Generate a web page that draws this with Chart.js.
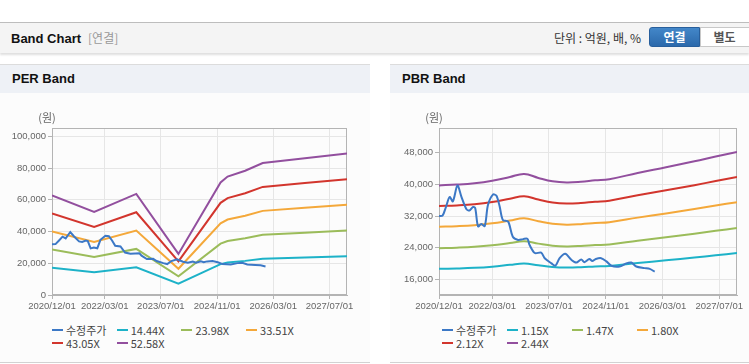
<!DOCTYPE html>
<html><head><meta charset="utf-8">
<script src="https://cdn.jsdelivr.net/npm/chart.js@4.4.1/dist/chart.umd.min.js"></script>
<style>
html,body{margin:0;padding:0;background:#fff;width:749px;height:364px;overflow:hidden;font-family:"Noto Sans CJK KR","Liberation Sans",sans-serif;}
#hdr{position:absolute;left:0;top:22px;width:749px;height:30px;background:#f4f4f4;border-top:1px solid #bdbdbd;box-shadow:0 2px 2px rgba(0,0,0,0.13);}
#hdr .t{position:absolute;left:11px;top:6px;font:bold 13px "Liberation Sans",sans-serif;color:#111;line-height:18px;}
#hdr .t span{font:12px "Noto Sans CJK KR",sans-serif;color:#999;margin-left:7px;}
#hdr .u{position:absolute;right:108px;top:6px;font:12px "Noto Sans CJK KR",sans-serif;color:#333;line-height:18px;}
#hdr .b1{position:absolute;left:649px;top:4px;width:51px;height:20px;background:linear-gradient(#4387c9,#2b69ab);border:1px solid #285f9c;border-radius:3px 0 0 3px;box-sizing:border-box;color:#fff;font:bold 12px "Noto Sans CJK KR",sans-serif;text-align:center;line-height:18px;}
#hdr .b2{position:absolute;left:700px;top:4px;width:56px;height:20px;background:#fff;border:1px solid #c8c8c8;box-sizing:border-box;color:#555;font:bold 12px "Noto Sans CJK KR",sans-serif;text-align:center;line-height:18px;padding-right:7px;}
.panel{position:absolute;top:64px;height:297px;background:#fcfcfc;border-top:1px solid #dcdcdc;border-bottom:1px solid #d2d2d2;}
.ptitle{height:28px;background:#eef1f6;font:bold 13px "Liberation Sans",sans-serif;color:#111;padding-left:12px;line-height:28px;}
canvas{position:absolute;top:93px;}
.legend{position:absolute;top:323px;display:flex;flex-wrap:wrap;}
.legend .it{display:flex;align-items:center;height:13px;font:11px "Noto Sans CJK KR",sans-serif;color:#444;white-space:nowrap;}
.legend .mk{display:inline-block;width:11px;height:2px;margin-right:3px;}
</style></head>
<body>
<div id="hdr"><div class="t">Band Chart<span>[연결]</span></div><div class="u">단위 : 억원, 배, %</div><div class="b1">연결</div><div class="b2">별도</div></div>
<div class="panel" style="left:0;width:370px;"><div class="ptitle">PER Band</div></div>
<div class="panel" style="left:390px;width:359px;"><div class="ptitle">PBR Band</div></div>
<canvas id="per" width="370" height="225" style="left:0;"></canvas>
<canvas id="pbr" width="359" height="225" style="left:390px;"></canvas>
<div class="legend" id="perLeg" style="left:52px;width:260px;"></div>
<div class="legend" id="pbrLeg" style="left:442px;width:262px;"></div>
<script>
// ---- data ----
const xTickLabels = ['2020/12/01','2022/03/01','2023/07/01','2024/11/01','2026/03/01','2027/07/01'];
const xStart = '2020/12/01';
const xEnd = '2027/12/01';

const priceDates = ['2020/12/01','2021/01/01','2021/02/01','2021/03/01','2021/03/28','2021/05/07','2021/06/10','2021/07/22','2021/08/19','2021/09/19','2021/10/07','2021/11/01','2021/11/28','2021/12/28','2022/01/25','2022/03/07','2022/04/07','2022/05/04','2022/06/01','2022/07/16','2022/08/25','2022/10/10','2022/11/22','2022/12/28','2023/01/16','2023/03/01','2023/04/25','2023/05/25','2023/07/22','2023/08/25','2023/10/01','2023/11/19','2024/01/10','2024/02/22','2024/04/04','2024/05/01','2024/06/13','2024/07/07','2024/08/07','2024/09/22','2024/11/07','2024/12/19','2025/02/28','2025/04/25','2025/06/07','2025/07/19','2025/09/28','2025/11/13','2025/12/25'];
const priceValues = [32000,32100,34400,36800,35700,39700,36900,33800,33400,34300,34000,29400,30000,29500,34800,37400,37100,34400,31000,30600,26800,26000,26200,26300,24800,22700,22800,21400,20100,19500,21400,22500,21000,20300,21100,20400,21200,20700,21200,21400,20600,19500,19300,20100,20300,19300,18900,18700,18000];

const perBandDates = ['2020/12/01','2021/12/01','2022/12/01','2023/12/01','2024/12/01','2025/02/01','2025/07/01','2025/12/01','2026/12/01','2027/12/01'];
const per1444 = [17256,14397,17501,7119,19494,20505,21516,22859,23682,24505];
const per2398 = [28656,23908,29064,11822,32373,34052,35730,37960,39327,40694];
const per3351 = [40044,33409,40614,16520,45239,47584,49930,53046,54956,56866];
const per4305 = [51445,42921,52177,21224,58118,61131,64145,68148,70602,73056];
const per5258 = [62833,52422,63727,25922,70983,74664,78344,83234,86231,89228];
const perLabels = ['수정주가','14.44X','23.98X','33.51X','43.05X','52.58X'];
const perYTicks = [0,20000,40000,60000,80000,100000];

const pbrBandDates = ['2020/12/01','2021/05/01','2021/10/01','2022/03/01','2022/08/01','2022/12/01','2023/04/01','2023/08/01','2023/12/01','2024/04/01','2024/08/01','2024/12/01','2025/08/01','2026/04/01','2026/12/01','2027/06/01','2027/12/01'];
const pbr115 = [18722,18814,18975,19274,19723,20079,19608,19205,19067,19148,19320,19458,20194,20873,21574,22138,22678];
const pbr147 = [23932,24049,24255,24637,25211,25666,25064,24549,24373,24476,24696,24872,25813,26681,27577,28298,28988];
const pbr180 = [29304,29448,29700,30168,30870,31428,30690,30060,29844,29970,30240,30456,31608,32670,33768,34650,35496];
const pbr212 = [34514,34683,34980,35531,36358,37015,36146,35404,35150,35298,35616,35870,37227,38478,39771,40810,41806];
const pbr244 = [39723,39918,40260,40894,41846,42602,41602,40748,40455,40626,40992,41285,42846,44286,45774,46970,48117];
const pbrLabels = ['수정주가','1.15X','1.47X','1.80X','2.12X','2.44X'];
const pbrYTicks = [16000,24000,32000,40000,48000];

const colors = ['#3c78c6','#1db2c8','#9bbc5a','#f4a83a','#d2352d','#924f9e'];

// ---- helpers ----
function toMonth(s){const [y,m,d]=s.split('/').map(Number);const [y0,m0]=xStart.split('/').map(Number);return (y-y0)*12+(m-m0)+(d-1)/30;}
function pts(dates,vals){return dates.map((d,i)=>({x:toMonth(d),y:vals[i]}));}

const frame = {
  id:'frame',
  beforeDatasetsDraw(c){
    const a=c.chartArea,ctx=c.ctx;ctx.save();ctx.strokeStyle='#b4b4b4';ctx.lineWidth=1;
    const l=Math.round(a.left)+0.5,t=Math.round(a.top)+0.5,r=Math.round(a.right)-0.5,b=Math.round(a.bottom)-0.5;
    ctx.strokeRect(l,t,r-l,b-t);ctx.restore();
  },
  afterDraw(c){
    const a=c.chartArea,ctx=c.ctx;ctx.save();ctx.fillStyle='#666';ctx.font='11px "Noto Sans CJK KR"';
    ctx.textAlign='center';ctx.textBaseline='middle';ctx.fillText('(원)',a.left-5,a.top-10);ctx.restore();
  }
};

function makeChart(id,seriesSets,labels,yMin,yMax,yTicks,yWidth,pad,tension,priceTension){
  const ds = seriesSets.map((s,i)=>({
    label:labels[i],data:s,borderColor:colors[i],backgroundColor:colors[i],borderWidth:2,
    pointRadius:0,fill:false,tension:i===0?priceTension:tension,order:i===0?0:1
  }));
  const tickFont={family:'"Liberation Sans"',size:9.5};
  return new Chart(document.getElementById(id),{
    type:'line',
    data:{datasets:ds},
    options:{
      responsive:false,animation:false,devicePixelRatio:1,
      layout:{padding:pad},
      plugins:{legend:{display:false},tooltip:{enabled:false}},
      scales:{
        x:{type:'linear',min:0,max:toMonth(xEnd),
          afterBuildTicks(s){s.ticks=xTickLabels.map(l=>({value:toMonth(l)}));},
          afterFit(s){s.height=23;},
          ticks:{autoSkip:false,maxRotation:0,padding:2,color:'#666',font:tickFont,callback:(v,i)=>xTickLabels[i]},
          grid:{color:'#e6e6e6',tickColor:'#b4b4b4',tickLength:4},
          border:{color:'#b4b4b4'}},
        y:{type:'linear',min:yMin,max:yMax,
          afterBuildTicks(s){s.ticks=yTicks.map(v=>({value:v}));},
          afterFit(s){s.width=yWidth;},
          ticks:{padding:2,color:'#666',font:tickFont,callback:v=>Number(v).toLocaleString('en-US')},
          grid:{color:'#e6e6e6',tickColor:'#b4b4b4',tickLength:4},
          border:{color:'#b4b4b4'}}
      }
    },
    plugins:[frame]
  });
}

function legend(chart,elId,w){
  const el=document.getElementById(elId);
  chart.data.datasets.forEach(d=>{
    const it=document.createElement('div');it.className='it';it.style.width=w+'px';
    const mk=document.createElement('span');mk.className='mk';mk.style.background=d.borderColor;
    it.appendChild(mk);it.appendChild(document.createTextNode(d.label));el.appendChild(it);
  });
}

const perChart = makeChart('per',
  [pts(priceDates,priceValues),pts(perBandDates,per1444),pts(perBandDates,per2398),pts(perBandDates,per3351),pts(perBandDates,per4305),pts(perBandDates,per5258)],
  perLabels,0,105300,perYTicks,52,{top:35,right:23,bottom:0,left:0},0,0);
const pbrChart = makeChart('pbr',
  [pts(priceDates,priceValues),pts(pbrBandDates,pbr115),pts(pbrBandDates,pbr147),pts(pbrBandDates,pbr180),pts(pbrBandDates,pbr212),pts(pbrBandDates,pbr244)],
  pbrLabels,12140,54160,pbrYTicks,49,{top:35,right:12,bottom:0,left:0},0.4,0.3);
legend(perChart,'perLeg',64.7);
legend(pbrChart,'pbrLeg',65);
</script>
</body></html>
